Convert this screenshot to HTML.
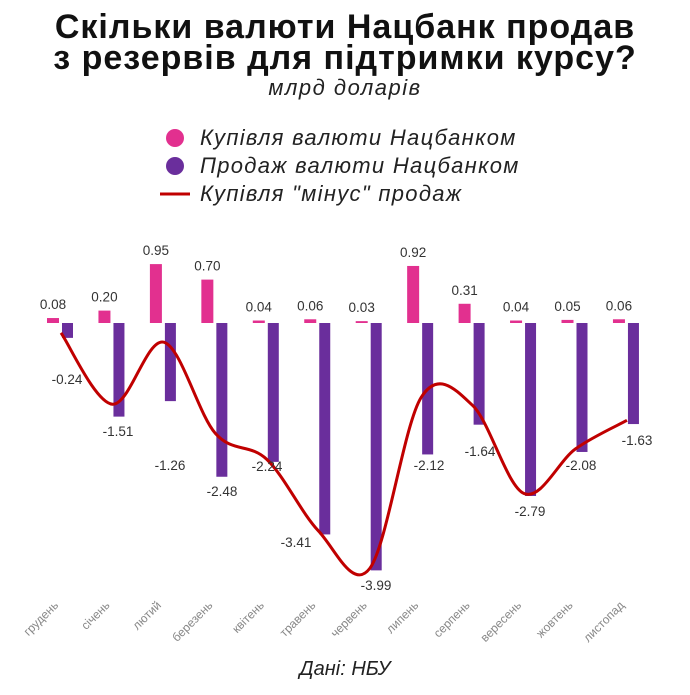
<!DOCTYPE html><html><head><meta charset="utf-8"><style>
body{margin:0;background:#fff;width:690px;height:690px;overflow:hidden;font-family:"Liberation Sans",sans-serif}
</style></head><body>
<svg width="690" height="690" xmlns="http://www.w3.org/2000/svg" font-family="Liberation Sans, sans-serif">
<text x="345" y="38" text-anchor="middle" font-size="34" font-weight="bold" letter-spacing="1" fill="#111">Скільки валюти Нацбанк продав</text>
<text x="345" y="69" text-anchor="middle" font-size="34" font-weight="bold" letter-spacing="1" fill="#111">з резервів для підтримки курсу?</text>
<text x="345" y="95" text-anchor="middle" font-size="22" font-style="italic" letter-spacing="1.5" fill="#222">млрд доларів</text>
<circle cx="175" cy="138" r="9" fill="#e2308f"/>
<circle cx="175" cy="166" r="9" fill="#6a2e9c"/>
<line x1="160" y1="194" x2="190" y2="194" stroke="#c00000" stroke-width="3"/>
<g font-size="22" font-style="italic" letter-spacing="1.3" fill="#222">
<text x="200" y="145">Купівля валюти Нацбанком</text>
<text x="200" y="173">Продаж валюти Нацбанком</text>
<text x="200" y="201">Купівля "мінус" продаж</text>
</g>
<g id="bars"></g>
<path id="ln" fill="none" stroke="#c00000" stroke-width="3"/>
<g id="lbl" font-size="13.5" fill="#333" text-anchor="middle"></g>
<text x="345" y="675" text-anchor="middle" font-size="20" font-style="italic" fill="#222">Дані: НБУ</text>
</svg>
<script>
var buy=[0.08,0.20,0.95,0.70,0.04,0.06,0.03,0.92,0.31,0.04,0.05,0.06];
var sell=[0.24,1.51,1.26,2.48,2.24,3.41,3.99,2.12,1.64,2.79,2.08,1.63];
var m=["грудень","січень","лютий","березень","квітень","травень","червень","липень","серпень","вересень","жовтень","листопад"];
var Z=323,K=62,S=51.45,ns="http://www.w3.org/2000/svg";
var b=document.getElementById("bars"),l=document.getElementById("lbl");
function el(p,t,a,tx){var e=document.createElementNS(ns,t);for(var k in a)e.setAttribute(k,a[k]);if(tx)e.textContent=tx;p.appendChild(e);return e;}
var pts=[];
var sellLblY=[384,436,470,496,471,547,590,470,456,516,470,445];
var sellLblX=[67,118,170,222,267,296,376,429,480,530,581,637];
for(var i=0;i<12;i++){
 var x=47+i*S;
 el(b,"rect",{x:x,y:Z-buy[i]*K,width:12,height:buy[i]*K,fill:"#e2308f"});
 el(b,"rect",{x:x+15,y:Z,width:11,height:sell[i]*K,fill:"#6a2e9c"});
 el(l,"text",{x:x+6,y:Z-buy[i]*K-9},buy[i].toFixed(2));
 el(l,"text",{x:sellLblX[i],y:sellLblY[i]},"-"+sell[i].toFixed(2));
 el(l,"text",{x:0,y:0,"font-size":"12",fill:"#888","text-anchor":"end",transform:"translate("+(x+12)+",606) rotate(-45)"},m[i]);
 pts.push([x+14,Z-(buy[i]-sell[i])*K]);
}
var d="M"+pts[0][0]+","+pts[0][1];
for(var i=0;i<11;i++){
 var p0=pts[i>0?i-1:i],p1=pts[i],p2=pts[i+1],p3=pts[i<10?i+2:i+1];
 var c1=[p1[0]+(p2[0]-p0[0])/6,p1[1]+(p2[1]-p0[1])/6],c2=[p2[0]-(p3[0]-p1[0])/6,p2[1]-(p3[1]-p1[1])/6];
 d+=" C"+c1+" "+c2+" "+p2;
}
document.getElementById("ln").setAttribute("d",d);
</script>
</body></html>
